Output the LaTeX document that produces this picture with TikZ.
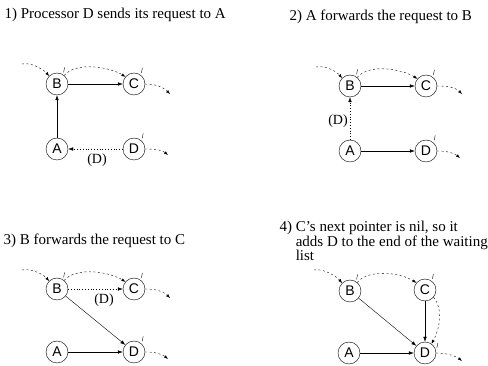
\documentclass[tikz,border=0pt]{standalone}
\usepackage{fontspec}
\setmainfont{Liberation Serif}
\setsansfont{Liberation Sans}
\usetikzlibrary{arrows.meta, calc}

% little lock flag drawn just outside a processor circle
\newcommand{\flag}[2]{\draw[thin] ([shift={(1pt,2pt)}]#1.#2) -- ++(1pt,5pt);}

\begin{document}
\begin{tikzpicture}[
    x=1pt, y=-1pt,
    proc/.style={
        circle, draw, thin, minimum size=22pt, inner sep=0pt,
        font=\sffamily\fontsize{14}{14}\selectfont
    },
    ptr/.style={-{Latex[length=5pt,width=3.5pt]}, thin},
    req/.style={-{Latex[length=5pt,width=3.5pt]}, thin, dash pattern=on 0.8pt off 2pt},
    wait/.style={-{Latex[length=4pt,width=3pt]}, thin, dash pattern=on 2pt off 2.5pt},
    title/.style={anchor=west, font=\fontsize{15}{12.5}\selectfont, align=left},
    tag/.style={font=\fontsize{14}{14}\selectfont}
]
\useasboundingbox (0,0) rectangle (488,366);

% ---------- 1) D sends its request to A
\node[title] (t1) at (1,15) {1) Processor D sends its request to A};
\node[proc] (b1) at (57,84)  {B};
\node[proc] (c1) at (134,84) {C};
\node[proc] (a1) at (57,149) {A};
\node[proc] (d1) at (134,149) {D};

\draw[ptr] (a1) -- (b1);
\draw[ptr] (b1) -- (c1);
\draw[req] (d1) -- (a1);
\node[tag] (r1) at (97,160) {(D)};

\coordinate (in1) at (22,64);
\coordinate (oc1) at (170,94);
\coordinate (od1) at (168,155);
\draw[wait] (in1) .. controls +(10,-2) and +(-5,-6) .. (b1.135);
\draw[wait] (b1.50) .. controls +(12,-14) and +(-16,-10) .. (c1.140);
\draw[wait] (c1.east) .. controls +(12,0) and +(-6,-6) .. (oc1);
\draw[wait] (d1.east) .. controls +(10,0) and +(-6,-5) .. (od1);
\flag{b1}{60} \flag{c1}{55} \flag{d1}{50}

% ---------- 2) A forwards it to B
\node[title] (t2) at (286,17) {2) A forwards the request to B};
\node[proc] (b2) at (350,86)  {B};
\node[proc] (c2) at (426,86)  {C};
\node[proc] (a2) at (350,151) {A};
\node[proc] (d2) at (426,151) {D};

\draw[req] (a2) -- (b2);
\node[tag] (r2) at (338,121) {(D)};
\draw[ptr] (b2) -- (c2);
\draw[ptr] (a2) -- (d2);

\coordinate (in2) at (316,67);
\coordinate (oc2) at (462,94);
\coordinate (od2) at (460,158);
\draw[wait] (in2) .. controls +(10,-2) and +(-5,-6) .. (b2.135);
\draw[wait] (b2.50) .. controls +(12,-14) and +(-16,-10) .. (c2.140);
\draw[wait] (c2.east) .. controls +(12,0) and +(-6,-6) .. (oc2);
\draw[wait] (d2.east) .. controls +(10,0) and +(-6,-5) .. (od2);
\flag{b2}{60} \flag{c2}{55} \flag{d2}{50}

% ---------- 3) B forwards it to C
\node[title] (t3) at (0,241) {3) B forwards the request to C};
\node[proc] (b3) at (57,289)  {B};
\node[proc] (c3) at (134,289) {C};
\node[proc] (a3) at (57,352)  {A};
\node[proc] (d3) at (134,352) {D};

\draw[req] (b3) -- (c3);
\node[tag] (r3) at (104,300) {(D)};
\draw[ptr] (b3) -- (d3);
\draw[ptr] (a3) -- (d3);

\coordinate (in3) at (22,270);
\coordinate (oc3) at (170,298);
\coordinate (od3) at (168,359);
\draw[wait] (in3) .. controls +(10,-2) and +(-5,-6) .. (b3.135);
\draw[wait] (b3.50) .. controls +(12,-14) and +(-16,-10) .. (c3.140);
\draw[wait] (c3.east) .. controls +(12,0) and +(-6,-6) .. (oc3);
\draw[wait] (d3.east) .. controls +(10,0) and +(-6,-5) .. (od3);
\flag{b3}{60} \flag{c3}{55} \flag{d3}{50}

% ---------- 4) C appends D to the waiting list
\node[title] (t4) at (276,241) {4)~C's next pointer is nil, so it\\
    \hphantom{4)~}adds D to the end of the waiting\\
    \hphantom{4)~}list};
\node[proc] (b4) at (350,291) {B};
\node[proc] (c4) at (425,290) {C};
\node[proc] (a4) at (349,353) {A};
\node[proc] (d4) at (425,353) {D};

\draw[ptr] (b4) -- (d4);
\draw[ptr] (c4) -- (d4);
\draw[ptr] (a4) -- (d4);

\coordinate (in4) at (314,270);
\coordinate (od4) at (462,361);
\draw[wait] (in4) .. controls +(10,-2) and +(-5,-6) .. (b4.135);
\draw[wait] (b4.50) .. controls +(12,-14) and +(-16,-10) .. (c4.140);
\draw[wait] (c4.-40) .. controls +(10,12) and +(8,-14) .. (d4.55);
\draw[wait] (d4.east) .. controls +(10,0) and +(-6,-5) .. (od4);
\flag{b4}{60} \flag{c4}{55} \flag{d4}{15}

\end{tikzpicture}
\end{document}
